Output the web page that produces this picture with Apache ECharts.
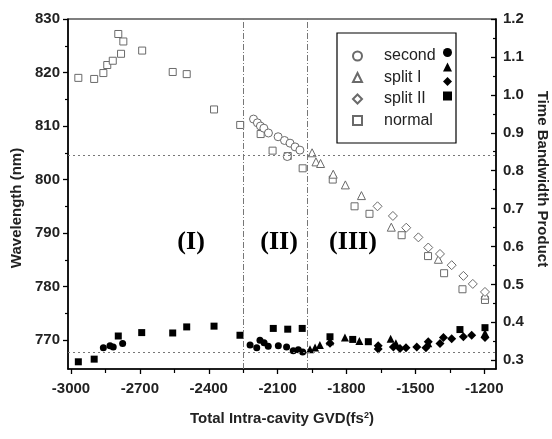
<!DOCTYPE html>
<html>
<head>
<meta charset="utf-8">
<script src="https://cdn.jsdelivr.net/npm/echarts@6/dist/echarts.min.js"></script>
<style>html,body{margin:0;padding:0;background:#fff}#c{width:552px;height:439px}</style>
</head>
<body>
<div id="c"></div>
<script>
// ---- tick labels ----
const xTicks = [-3000, -2700, -2400, -2100, -1800, -1500, -1200];
const xMinorTicks = [-2850, -2550, -2250, -1950, -1650, -1350];
const wlTicks = [770, 780, 790, 800, 810, 820, 830];
const wlMinorTicks = [775, 785, 795, 805, 815, 825];
const tbpTicks = [0.3, 0.4, 0.5, 0.6, 0.7, 0.8, 0.9, 1.0, 1.1, 1.2];
const tbpMinorTicks = [0.35, 0.45, 0.55, 0.65, 0.75, 0.85, 0.95, 1.05, 1.15];

// ---- wavelength (open symbols, left axis) ----
const secondWave = [[-2205,811.3],[-2188,810.6],[-2175,810.0],[-2160,809.6],[-2140,808.7],[-2098,808.0],[-2070,807.3],[-2046,806.8],[-2024,806.1],[-2003,805.5],[-2058,804.3]];
const split1Wave = [[-1950,805.0],[-1933,803.3],[-1913,803.0],[-1858,801.0],[-1805,799.0],[-1735,797.0],[-1605,791.1],[-1400,785.1],[-1197,778.4]];
const split2Wave = [[-1665,795.0],[-1598,793.2],[-1540,791.0],[-1487,789.2],[-1444,787.3],[-1393,786.1],[-1342,784.0],[-1291,782.0],[-1250,780.5],[-1197,779.0]];
const normalWave = [[-2968,819.0],[-2899,818.8],[-2859,819.9],[-2842,821.4],[-2818,822.2],[-2794,827.2],[-2782,823.5],[-2772,825.8],[-2690,824.1],[-2557,820.1],[-2496,819.7],[-2377,813.1],[-2263,810.2],[-2174,808.5],[-2122,805.4],[-2056,804.4],[-1991,802.1],[-1860,800.0],[-1765,795.0],[-1700,793.6],[-1560,789.6],[-1445,785.7],[-1375,782.5],[-1295,779.5],[-1197,777.5]];

// ---- time bandwidth product (filled symbols, right axis) ----
const secondTbp = [[-2859,0.333],[-2830,0.338],[-2816,0.335],[-2775,0.344],[-2220,0.340],[-2191,0.333],[-2177,0.353],[-2159,0.346],[-2141,0.337],[-2097,0.338],[-2061,0.335],[-2032,0.325],[-2010,0.328],[-1991,0.322]];
const split1Tbp = [[-1959,0.329],[-1937,0.334],[-1916,0.340],[-1872,0.350],[-1807,0.360],[-1744,0.351],[-1608,0.357],[-1585,0.345],[-1444,0.345],[-1197,0.372]];
const split2Tbp = [[-1872,0.345],[-1662,0.338],[-1662,0.330],[-1596,0.335],[-1567,0.331],[-1541,0.333],[-1494,0.335],[-1454,0.333],[-1444,0.349],[-1393,0.344],[-1378,0.360],[-1342,0.357],[-1291,0.362],[-1255,0.366],[-1197,0.360]];
const normalTbp = [[-2968,0.296],[-2899,0.303],[-2794,0.364],[-2692,0.373],[-2557,0.372],[-2496,0.388],[-2377,0.390],[-2264,0.366],[-2119,0.384],[-2056,0.382],[-1993,0.384],[-1872,0.362],[-1773,0.355],[-1705,0.349],[-1306,0.381],[-1197,0.386]];

// ---- reference lines and region labels ----
const regionBounds = [-2250, -1970];
const tbpRefLines = [0.843, 0.315];
const regionLabels = [['(I)', -2477, 788.2], ['(II)', -2094, 788.2], ['(III)', -1772, 788.2]];

const xMin = -3013, xMax = -1149, wlMin = 764.6, wlMax = 830, tbpMin = 0.277, tbpMax = 1.2;

const font = 'Liberation Sans, Arial, sans-serif';
const openStyle = {color: '#fff', borderColor: '#6a6a6a', borderWidth: 1, opacity: 1};
const fillStyle = {color: '#000', borderColor: '#000', borderWidth: 0, opacity: 1};
const labelStyle = {fontFamily: font, fontSize: 15, fontWeight: 'bold', color: '#222'};
const nameStyle = {fontFamily: font, fontSize: 15, fontWeight: 'bold', color: '#222'};

const chart = echarts.init(document.getElementById('c'), null, {renderer: 'canvas'});

function openSeries(name, symbol, data, size) {
  return {name, type: 'scatter', xAxisIndex: 0, yAxisIndex: 0, symbol, symbolSize: size, data, itemStyle: openStyle, z: 3, silent: true};
}
function fillSeries(name, symbol, data, size) {
  return {name, type: 'scatter', xAxisIndex: 0, yAxisIndex: 1, symbol, symbolSize: size, data, itemStyle: fillStyle, z: 4, silent: true};
}

const option = {
  animation: false,
  backgroundColor: '#fff',
  grid: {left: 68, right: 56, top: 19, bottom: 70, containLabel: false, outerBoundsMode: 'none',
         show: true, borderColor: '#000', borderWidth: 1.2, backgroundColor: 'transparent'},
  legend: [
    {data: ['second', 'split I', 'split II', 'normal'], orient: 'vertical', left: 347, top: 43,
     itemWidth: 9, itemHeight: 9, itemGap: 5.5, selectedMode: false,
     textStyle: {fontFamily: font, fontSize: 16, color: '#222', padding: [0, 0, 0, 17]}},
    {data: ['second TBP', 'split I TBP', 'split II TBP', 'normal TBP'], orient: 'vertical', left: 438, top: 43,
     itemWidth: 9, itemHeight: 9, itemGap: 5.5, selectedMode: false, formatter: () => '',
     textStyle: {fontFamily: font, fontSize: 16}}
  ],
  graphic: [
    {type: 'rect', shape: {x: 337, y: 33, width: 119, height: 110}, style: {fill: 'none', stroke: '#000', lineWidth: 1.2}, z: 10}
  ],
  xAxis: [
    {type: 'value', min: xMin, max: xMax, position: 'bottom',
     name: '{a|Total Intra-cavity GVD(fs}{s|2}{a|)}', nameLocation: 'middle', nameGap: 42,
     nameTextStyle: {rich: {a: nameStyle, s: {fontFamily: font, fontSize: 9, fontWeight: 'bold', color: '#222', verticalAlign: 'top', padding: [0, 0, 7, 0]}}},
     axisLine: {show: true, onZero: false, lineStyle: {color: '#000', width: 1.5}},
     axisTick: {show: true, inside: false, length: 5, customValues: xTicks, lineStyle: {color: '#000', width: 1.3}},
     axisLabel: Object.assign({customValues: xTicks, margin: 12, formatter: v => String(v)}, labelStyle),
     splitLine: {show: false}},
    {type: 'value', min: xMin, max: xMax, position: 'bottom',
     axisLine: {show: false, onZero: false},
     axisTick: {show: true, inside: false, length: 4, customValues: xMinorTicks, lineStyle: {color: '#000', width: 1.2}},
     axisLabel: {show: false}, splitLine: {show: false}}
  ],
  yAxis: [
    {type: 'value', min: wlMin, max: wlMax, position: 'left',
     name: 'Wavelength (nm)', nameLocation: 'middle', nameGap: 43,
     nameTextStyle: Object.assign({padding: [0, 28, 0, 0]}, nameStyle),
     axisLine: {show: true, onZero: false, lineStyle: {color: '#000', width: 1.5}},
     axisTick: {show: true, inside: false, length: 5, customValues: wlTicks, lineStyle: {color: '#000', width: 1.3}},
     axisLabel: Object.assign({customValues: wlTicks, margin: 8}, labelStyle),
     splitLine: {show: false}},
    {type: 'value', min: tbpMin, max: tbpMax, position: 'right',
     name: 'Time Bandwidth Product', nameLocation: 'middle', nameGap: 38, nameRotate: -90,
     nameTextStyle: Object.assign({padding: [0, 30, 0, 0]}, nameStyle),
     axisLine: {show: true, onZero: false, lineStyle: {color: '#000', width: 1.5}},
     axisTick: {show: true, inside: true, length: 5, customValues: tbpTicks, lineStyle: {color: '#000', width: 1.3}},
     axisLabel: Object.assign({customValues: tbpTicks, margin: 7, formatter: v => v.toFixed(1)}, labelStyle),
     splitLine: {show: false}},
    {type: 'value', min: wlMin, max: wlMax, position: 'left',
     axisLine: {show: false, onZero: false},
     axisTick: {show: true, inside: false, length: 3, customValues: wlMinorTicks, lineStyle: {color: '#000', width: 1.2}},
     axisLabel: {show: false}, splitLine: {show: false}},
    {type: 'value', min: tbpMin, max: tbpMax, position: 'right',
     axisLine: {show: false, onZero: false},
     axisTick: {show: true, inside: true, length: 3, customValues: tbpMinorTicks, lineStyle: {color: '#000', width: 1.2}},
     axisLabel: {show: false}, splitLine: {show: false}}
  ],
  series: [
    Object.assign(openSeries('normal', 'rect', normalWave, 7), {
      markLine: {silent: true, symbol: 'none', label: {show: false},
        lineStyle: {color: '#777', width: 1, type: [6, 2, 1, 2]},
        data: regionBounds.map(v => ({xAxis: v}))}
    }),
    openSeries('second', 'circle', secondWave, 8),
    openSeries('split I', 'triangle', split1Wave, 8),
    openSeries('split II', 'diamond', split2Wave, 9),
    Object.assign(fillSeries('normal TBP', 'rect', normalTbp, 7), {
      markLine: {silent: true, symbol: 'none', label: {show: false},
        lineStyle: {color: '#777', width: 1, type: [2, 3]},
        data: tbpRefLines.map(v => ({yAxis: v}))}
    }),
    fillSeries('second TBP', 'circle', secondTbp, 7),
    fillSeries('split I TBP', 'triangle', split1Tbp, 8),
    fillSeries('split II TBP', 'diamond', split2Tbp, 9),
    {name: 'regions', type: 'scatter', xAxisIndex: 0, yAxisIndex: 0, symbolSize: 0, silent: true,
     itemStyle: {opacity: 1},
     data: regionLabels.map(r => ({name: r[0], value: [r[1], r[2]]})),
     label: {show: true, position: 'inside', formatter: p => p.name,
       fontFamily: 'Liberation Serif, Times New Roman, serif', fontSize: 26, fontWeight: 'bold', color: '#000'}}
  ]
};
chart.setOption(option);
</script>
</body>
</html>
